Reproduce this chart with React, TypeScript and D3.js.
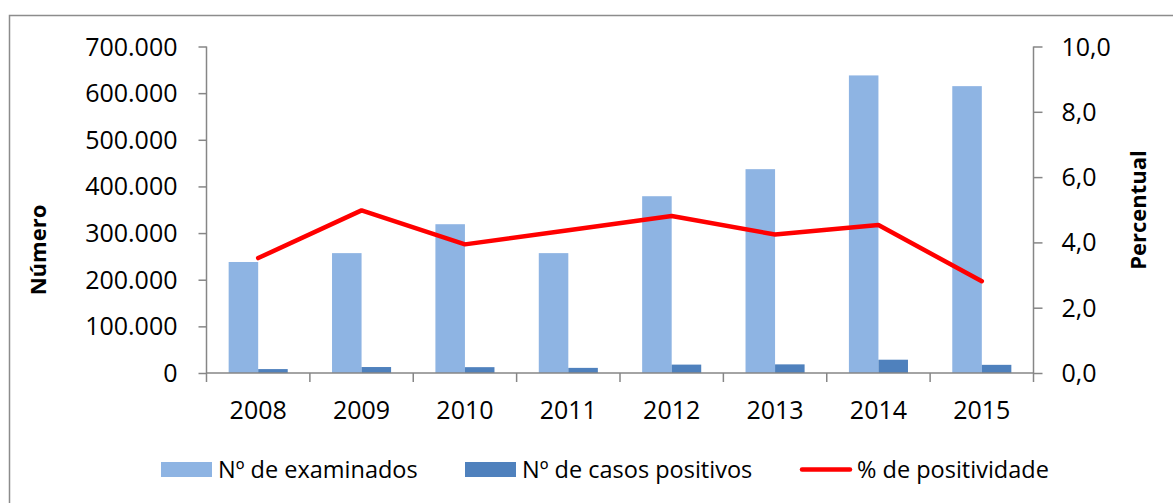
import React, { useEffect, useRef } from "react";
import * as d3 from "d3";

const YEARS = ["2008", "2009", "2010", "2011", "2012", "2013", "2014", "2015"];
const EXAMINADOS = [238000, 257000, 319000, 257000, 379000, 437000, 638000, 615000];
const POSITIVOS = [8400, 12800, 12500, 11000, 18000, 18500, 28500, 17500];
const POSITIVIDADE = [3.52, 4.98, 3.94, 4.37, 4.81, 4.24, 4.53, 2.81];
const LEFT_TICKS = [0, 100000, 200000, 300000, 400000, 500000, 600000, 700000];
const RIGHT_TICKS = [0, 2, 4, 6, 8, 10];
const LEGEND = ["Nº de examinados", "Nº de casos positivos", "% de positividade"];

const W = 1173;
const H = 503;
const FONT = "'Open Sans', sans-serif";
const LIGHT = "#8EB4E3";
const DARK = "#4F81BD";
const RED = "#FF0000";
const AXIS = "#868686";

function renderChart(svgEl: SVGSVGElement) {
  const svg = d3.select(svgEl);
  svg.selectAll("*").remove();

  const left = 206.5;
  const right = 1033.5;
  const top = 46.5;
  const bottom = 373;

  const x = d3.scaleBand().domain(YEARS).range([left, right]).padding(0);
  const yL = d3.scaleLinear().domain([0, 700000]).range([bottom, top]);
  const yR = d3.scaleLinear().domain([0, 10]).range([bottom, top]);

  // outer frame
  svg.append("rect")
    .attr("x", 9.5).attr("y", 15.5)
    .attr("width", 1180).attr("height", 500)
    .attr("fill", "white").attr("stroke", "#8c8c8c").attr("stroke-width", 1.5);

  // bars (gap width 150%)
  const bw = x.bandwidth() / 3.5;
  const g = svg.append("g");
  g.selectAll("rect.ex").data(EXAMINADOS).join("rect")
    .attr("x", (_, i) => x(YEARS[i])! + x.bandwidth() / 2 - bw)
    .attr("y", d => yL(d))
    .attr("width", bw)
    .attr("height", d => bottom - yL(d))
    .attr("fill", LIGHT);
  g.selectAll("rect.pos").data(POSITIVOS).join("rect")
    .attr("x", (_, i) => x(YEARS[i])! + x.bandwidth() / 2)
    .attr("y", d => yL(d))
    .attr("width", bw)
    .attr("height", d => bottom - yL(d))
    .attr("fill", DARK);

  // left axis
  const axL = svg.append("g").attr("transform", `translate(${left},0)`)
    .call(d3.axisLeft(yL).tickValues(LEFT_TICKS).tickSize(8).tickPadding(21)
      .tickFormat(d => d3.format(",")(d as number).replace(/,/g, ".")));
  axL.select(".domain").attr("stroke", AXIS).attr("stroke-width", 1.5).attr("d", `M0,${top}V${bottom}`);
  axL.selectAll(".tick line").attr("stroke", AXIS).attr("stroke-width", 1.5);
  axL.selectAll(".tick text").attr("font-family", FONT).attr("font-size", 25).attr("fill", "#000").attr("dy", "0.34em");

  // right axis
  const axR = svg.append("g").attr("transform", `translate(${right},0)`)
    .call(d3.axisRight(yR).tickValues(RIGHT_TICKS).tickSize(9).tickPadding(19)
      .tickFormat(d => (d as number).toFixed(1).replace(".", ",")));
  axR.select(".domain").attr("stroke", AXIS).attr("stroke-width", 1.5).attr("d", `M0,${top}V${bottom}`);
  axR.selectAll(".tick line").attr("stroke", AXIS).attr("stroke-width", 1.5);
  axR.selectAll(".tick text").attr("font-family", FONT).attr("font-size", 25).attr("fill", "#000").attr("dy", "0.34em");

  // bottom axis
  svg.append("line")
    .attr("x1", left).attr("x2", right).attr("y1", bottom).attr("y2", bottom)
    .attr("stroke", AXIS).attr("stroke-width", 1.5);
  svg.append("g").selectAll("line").data(d3.range(YEARS.length + 1)).join("line")
    .attr("x1", i => left + i * x.step()).attr("x2", i => left + i * x.step())
    .attr("y1", bottom).attr("y2", bottom + 9)
    .attr("stroke", AXIS).attr("stroke-width", 1.5);
  svg.append("g").selectAll("text").data(YEARS).join("text")
    .attr("x", d => x(d)! + x.bandwidth() / 2).attr("y", 419)
    .attr("text-anchor", "middle").attr("font-family", FONT).attr("font-size", 25)
    .text(d => d);

  // line
  const line = d3.line<number>()
    .x((_, i) => x(YEARS[i])! + x.bandwidth() / 2)
    .y(d => yR(d));
  svg.append("path").datum(POSITIVIDADE)
    .attr("d", line)
    .attr("fill", "none").attr("stroke", RED).attr("stroke-width", 4.5)
    .attr("stroke-linecap", "round").attr("stroke-linejoin", "round");

  // axis titles
  svg.append("text")
    .attr("transform", "translate(46,250) rotate(-90)")
    .attr("text-anchor", "middle").attr("font-family", FONT).attr("font-size", 22)
    .attr("font-weight", "bold").text("Número");
  svg.append("text")
    .attr("transform", "translate(1146,210) rotate(-90)")
    .attr("text-anchor", "middle").attr("font-family", FONT).attr("font-size", 22)
    .attr("font-weight", "bold").text("Percentual");

  // legend
  const lg = svg.append("g");
  const lx = [161, 465, 800];
  const ly = 469.5;
  lg.append("rect").attr("x", lx[0]).attr("y", ly - 7.5).attr("width", 51).attr("height", 15).attr("fill", LIGHT);
  lg.append("rect").attr("x", lx[1]).attr("y", ly - 7.5).attr("width", 51).attr("height", 15).attr("fill", DARK);
  lg.append("line").attr("x1", lx[2] + 2).attr("x2", lx[2] + 50).attr("y1", ly).attr("y2", ly)
    .attr("stroke", RED).attr("stroke-width", 4.5).attr("stroke-linecap", "round");
  lg.selectAll("text").data(LEGEND).join("text")
    .attr("x", (_, i) => lx[i] + 57).attr("y", ly + 8)
    .attr("font-family", FONT).attr("font-size", 23.5)
    .text(d => d);
}

export default function App() {
  const svgRef = useRef<SVGSVGElement>(null);

  useEffect(() => {
    if (!svgRef.current) return;
    renderChart(svgRef.current);
  }, []);

  return (
    <svg
      ref={svgRef}
      width={W}
      height={H}
      style={{ position: "absolute", left: 0, top: 0, display: "block", background: "white" }}
    />
  );
}
